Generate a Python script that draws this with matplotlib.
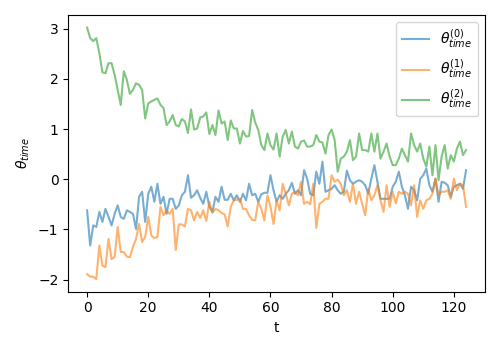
import numpy as np
import matplotlib
matplotlib.use("Agg")
import matplotlib.pyplot as plt

theta0 = [-0.62, -1.32, -0.92, -0.95, -0.65, -0.85, -0.59, -0.75, -0.92, -0.69,
          -0.52, -0.75, -0.79, -0.62, -0.65, -0.69, -0.99, -0.35, -0.25, -0.85,
          -0.29, -0.15, -0.45, -0.09, -0.49, -0.35, -0.69, -0.39, -0.39, -0.59,
          -0.52, -0.32, -0.25, 0.08,
          -0.37, -0.32, -0.22, -0.37, -0.49, -0.25, -0.55, -0.65, -0.35, -0.45,
          -0.15, -0.41, -0.41, -0.29, -0.42, -0.32, -0.45, -0.29, -0.42, -0.09,
          -0.32, -0.29, -0.45, -0.30, -0.27, -0.27, 0.08, -0.22, -0.45, -0.32,
          -0.39, -0.29,
          -0.22, -0.07, -0.29, -0.22, -0.32, 0.18, 0.01, -0.29, -0.32, 0.15,
          -0.09, 0.35, -0.25, -0.22, -0.19, -0.12, -0.22, -0.29, -0.25, 0.17,
          -0.02, -0.09, -0.05, -0.02, -0.05, -0.12, -0.29, 0.01, 0.28, -0.05,
          -0.39, -0.39, -0.39, -0.39, -0.15,
          -0.05, 0.15, -0.15, -0.32, -0.59, -0.15, -0.22, -0.42, 0.01, 0.08,
          0.21, -0.12, -0.25, 0.01, -0.45, -0.05, -0.07, -0.12, -0.35, -0.15,
          -0.12, -0.09, -0.19, 0.18]

theta1 = [-1.89, -1.94, -1.94, -1.99, -1.32, -1.72, -1.75, -1.19, -1.59, -1.55,
          -0.95, -1.45, -1.45, -1.54, -1.55, -1.35, -1.19, -0.89, -1.25, -1.15,
          -0.75, -1.12, -1.17, -1.15, -0.55, -0.72, -0.62, -0.69, -0.59, -1.41,
          -0.90, -0.90, -0.94, -0.59,
          -0.62, -0.82, -0.65, -0.77, -0.62, -0.83, -0.45, -0.67, -0.59, -0.62,
          -0.67, -0.70, -0.94, -0.55, -0.42, -0.41, -0.39, -0.59, -0.59, -0.72,
          -0.81, -0.82, -0.45, -0.59, -0.82, -0.32, -0.55, -0.89, -0.42, -0.62,
          -0.09, -0.29,
          -0.52, -0.29, -0.25, -0.32, -0.05, -0.49, -0.45, -0.50, -0.09, -0.97,
          -0.49, -0.45, -0.39, -0.39, 0.08, -0.05, -0.01, -0.09, -0.32, -0.22,
          -0.45, -0.09, -0.49, -0.25, -0.49, -0.72, -0.19, -0.42, -0.32, -0.12,
          -0.42, -0.65, -0.12, -0.55, -0.25,
          -0.48, -0.25, -0.29, -0.25, -0.29, -0.52, -0.12, -0.75, -0.42, -0.59,
          -0.42, -0.39, -0.29, 0.01, -0.32, -0.25, -0.25, -0.22, -0.39, 0.01,
          -0.22, -0.09, -0.12, -0.55]

theta2 = [3.02, 2.81, 2.75, 2.81, 2.51, 2.13, 2.11, 2.31, 2.31, 2.08,
          1.78, 1.48, 2.15, 1.98, 1.70, 1.78, 1.91, 1.88, 1.78, 1.21,
          1.51, 1.55, 1.58, 1.61, 1.48, 1.42, 1.08, 1.15, 1.28, 1.08,
          1.05, 1.20, 1.15, 0.92,
          1.39, 0.99, 1.01, 1.23, 1.25, 1.33, 0.90, 1.08, 0.88, 1.37,
          1.11, 1.15, 0.78, 1.17, 1.01, 1.01, 0.71, 0.96, 0.85, 0.86,
          1.38, 1.13, 0.98, 0.68, 0.58, 0.91, 0.68, 0.59, 0.91, 0.45,
          0.85, 0.98,
          0.71, 0.95, 0.65, 0.61, 0.75, 0.77, 0.65, 0.65, 0.68, 0.88,
          0.75, 0.73, 0.51, 0.88, 0.99, 0.78, 0.15, 0.41, 0.45, 0.55,
          0.78, 0.38, 0.45, 0.91, 0.58, 0.58, 0.55, 0.91, 0.55, 0.91,
          0.41, 0.55, 0.71, 0.45, 0.28,
          0.28, 0.41, 0.61, 0.48, 0.35, 0.91, 0.68, 0.55, 0.71, 0.41,
          0.25, 0.65, 0.08, 0.68, -0.02, 0.45, 0.68, 0.21, 0.48, 0.35,
          0.61, 0.75, 0.48, 0.58]

t = np.arange(len(theta0))

fig, ax = plt.subplots(figsize=(5, 3.5), dpi=100)
for i, vals in enumerate([theta0, theta1, theta2]):
    ax.plot(t, vals, alpha=0.6, label=r'$\theta_{time}^{(%d)}$' % i)
ax.set_xlabel('t')
ax.set_ylabel(r'$\theta_{time}$')
ax.legend(loc='upper right')
plt.tight_layout()
plt.savefig('out.png')
